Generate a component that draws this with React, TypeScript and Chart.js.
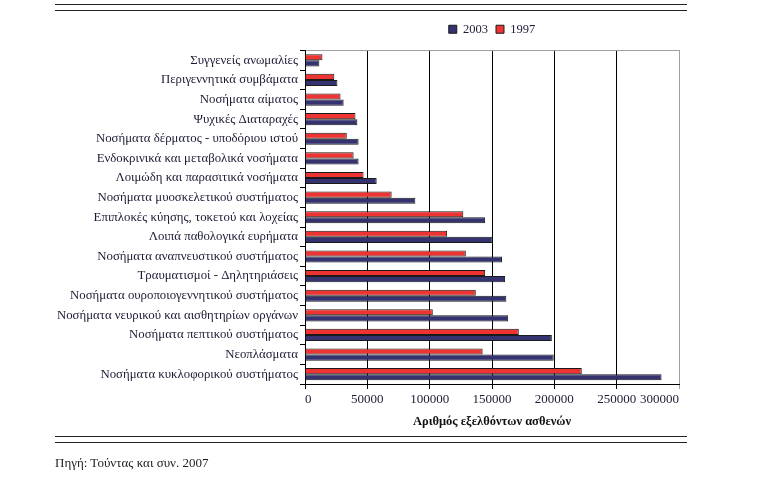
import React, { useEffect, useRef } from 'react';
import { Chart, registerables } from 'chart.js';

Chart.register(...registerables);

const categories: string[] = [
  'Συγγενείς ανωμαλίες',
  'Περιγεννητικά συμβάματα',
  'Νοσήματα αίματος',
  'Ψυχικές Διαταραχές',
  'Νοσήματα δέρματος - υποδόριου ιστού',
  'Ενδοκρινικά και μεταβολικά νοσήματα',
  'Λοιμώδη και παρασιτικά νοσήματα',
  'Νοσήματα μυοσκελετικού συστήματος',
  'Επιπλοκές κύησης, τοκετού και λοχείας',
  'Λοιπά παθολογικά ευρήματα',
  'Νοσήματα αναπνευστικού συστήματος',
  'Τραυματισμοί - Δηλητηριάσεις',
  'Νοσήματα ουροποιογεννητικού συστήματος',
  'Νοσήματα νευρικού και αισθητηρίων οργάνων',
  'Νοσήματα πεπτικού συστήματος',
  'Νεοπλάσματα',
  'Νοσήματα κυκλοφορικού συστήματος',
];

const values1997: number[] = [
  14000, 23500, 28500, 40500, 33500, 39000, 47000, 69500, 127000, 114000,
  129000, 144500, 137000, 102500, 171500, 142500, 222000,
];

const values2003: number[] = [
  11500, 26000, 31000, 42000, 43000, 43000, 57500, 88500, 144500, 150500,
  158000, 160500, 161500, 163000, 198000, 199500, 286000,
];

const xMin = 0;
const xMax = 300000;
const xStep = 50000;

const axisTitle = 'Αριθμός εξελθόντων ασθενών';
const sourceText = 'Πηγή: Τούντας και συν. 2007';

const FONT = "'Liberation Serif', 'DejaVu Serif', serif";
const TEXT = '#1b1b35';

export default function App() {
  const canvasRef = useRef<HTMLCanvasElement | null>(null);

  useEffect(() => {
    if (!canvasRef.current) return;
    const chart = new Chart(canvasRef.current, {
      type: 'bar',
      data: {
        labels: categories,
        datasets: [
          {
            label: '1997',
            data: values1997,
            backgroundColor: '#ee3333',
            borderColor: '#1a1a1a',
            borderWidth: 1,
            barPercentage: 1,
            categoryPercentage: 0.62,
          },
          {
            label: '2003',
            data: values2003,
            backgroundColor: '#35336f',
            borderColor: '#1a1a1a',
            borderWidth: 1,
            barPercentage: 1,
            categoryPercentage: 0.62,
          },
        ],
      },
      options: {
        indexAxis: 'y',
        animation: false,
        responsive: false,
        maintainAspectRatio: false,
        layout: { padding: { left: 0, right: 84, top: 15, bottom: 48 } },
        plugins: {
          tooltip: { enabled: false },
          legend: {
            position: 'top',
            fullSize: false,
            reverse: true,
            labels: {
              boxWidth: 8,
              boxHeight: 8,
              padding: 8,
              color: TEXT,
              font: { family: FONT, size: 12.5 },
            },
          },
        },
        scales: {
          x: {
            type: 'linear',
            min: xMin,
            max: xMax,
            ticks: {
              stepSize: xStep,
              color: TEXT,
              padding: 3,
              align: 'inner',
              font: { family: FONT, size: 13 },
              callback: (v: any) => String(v),
            },
            grid: {
              color: (ctx: any) => (ctx.tick && ctx.tick.value === xMax ? '#a0a0a0' : '#000000'),
              lineWidth: 1,
              drawTicks: true,
              tickLength: 5,
            },
            border: { display: true, color: '#000000' },
            title: {
              display: true,
              text: axisTitle,
              color: '#111',
              font: { family: FONT, size: 12.5, weight: 'bold' },
              padding: { top: 4, bottom: 4 },
            },
            afterFit: (scale: any) => {
              scale.height = 49;
            },
          },
          xTop: {
            type: 'linear',
            position: 'top',
            min: xMin,
            max: xMax,
            ticks: { display: false },
            grid: { display: false, drawOnChartArea: false, drawTicks: false },
            border: { display: true, color: '#a0a0a0' },
            afterFit: (scale: any) => {
              scale.height = 5;
            },
          },
          y: {
            type: 'category',
            ticks: {
              color: TEXT,
              padding: 2,
              autoSkip: false,
              font: { family: FONT, size: 12.8 },
            },
            grid: {
              offset: true,
              drawOnChartArea: false,
              drawTicks: true,
              tickLength: 5,
              color: '#000000',
            },
            border: { display: true, color: '#000000' },
            afterFit: (scale: any) => {
              scale.width = 305;
            },
          },
        },
      },
    } as any);
    return () => chart.destroy();
  }, []);

  const rule = (top: number) => (
    <div
      style={{
        position: 'absolute',
        left: 55,
        top,
        width: 632,
        height: 0,
        borderTop: '1.3px solid #222',
      }}
    />
  );

  return (
    <div style={{ position: 'absolute', left: 0, top: 0, width: 763, height: 481, background: '#fff' }}>
      {rule(4)}
      {rule(10)}
      <canvas ref={canvasRef} width={763} height={481} style={{ position: 'absolute', left: 0, top: 0, width: 763, height: 481 }} />
      {rule(436)}
      {rule(442)}
      <div
        style={{
          position: 'absolute',
          left: 55,
          top: 455,
          fontFamily: FONT,
          fontSize: 13,
          color: '#222',
          whiteSpace: 'nowrap',
        }}
      >
        {sourceText}
      </div>
    </div>
  );
}
